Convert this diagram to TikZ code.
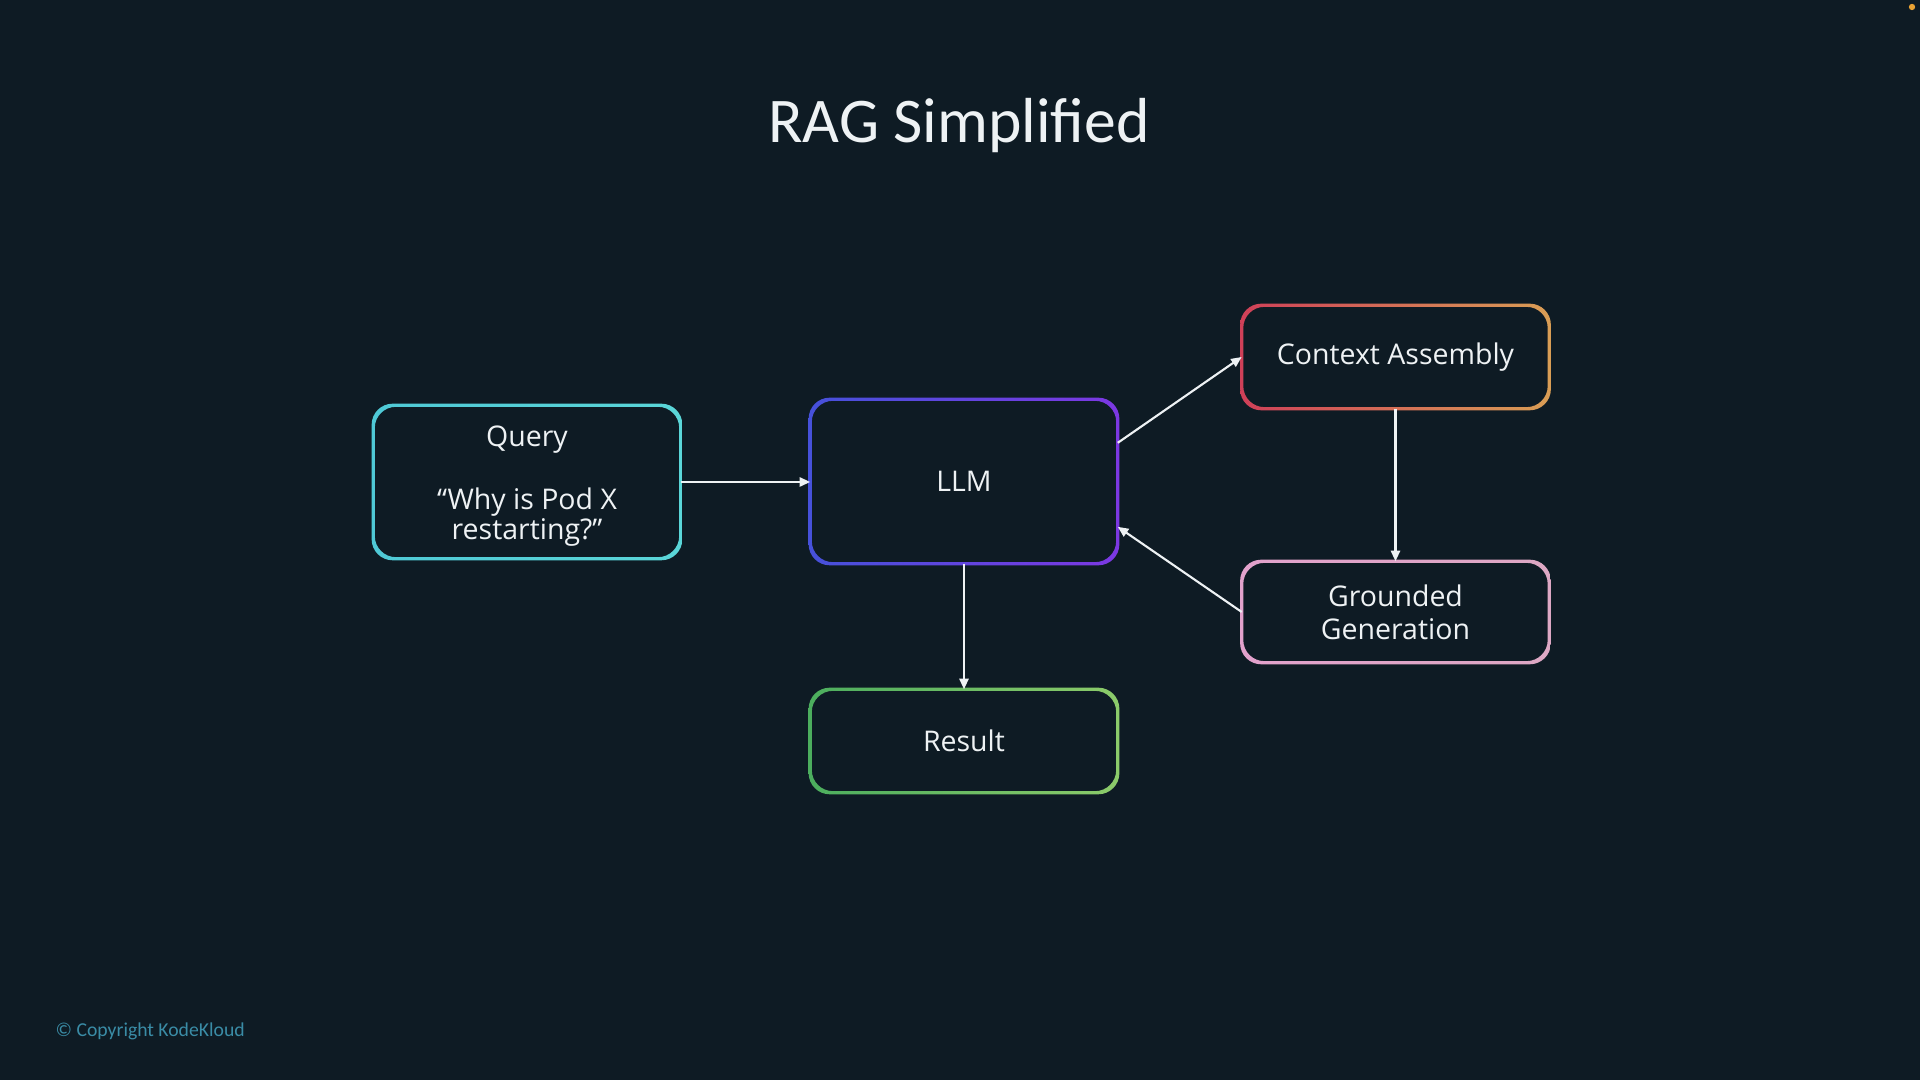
\documentclass[tikz,border=0pt]{standalone}
\usepackage{fontspec}
\setmainfont{Open Sans}
\newfontfamily\titlefont{Carlito}
\usetikzlibrary{arrows.meta}
\definecolor{bg}{HTML}{0E1B24}
\definecolor{txt}{HTML}{EEF2F4}
\definecolor{qa}{HTML}{4FC9D6}
\definecolor{qb}{HTML}{5AD6D8}
\definecolor{la}{HTML}{4651DA}
\definecolor{lb}{HTML}{7C38E2}
\definecolor{ca}{HTML}{CF4058}
\definecolor{cb}{HTML}{D99E55}
\definecolor{ga}{HTML}{E2A2CC}
\definecolor{gb}{HTML}{DDA8C4}
\definecolor{ra}{HTML}{4CAE5E}
\definecolor{rb}{HTML}{8CCB6A}
\definecolor{copy}{HTML}{3A8CA6}
\definecolor{dot}{HTML}{E8A234}
\newcommand\gring[3]{%
  \shade[left color=#2,right color=#3,even odd rule,rounded corners=6pt]
   ([xshift=-0.45pt,yshift=0.45pt]#1.north west) rectangle ([xshift=0.45pt,yshift=-0.45pt]#1.south east)
   ([xshift=0.45pt,yshift=-0.45pt]#1.north west) rectangle ([xshift=-0.45pt,yshift=0.45pt]#1.south east);}
\tikzset{
  box/.style={rectangle,inner sep=0pt,minimum width=3.06cm,text=txt,align=center,
    font=\fontsize{8.1}{9.4}\selectfont},
  arr/.style={draw=txt,line width=0.6pt,-{Triangle[length=3pt,width=2.6pt]}},
}
\begin{document}
\begin{tikzpicture}[x=0.01cm,y=-0.01cm]
\fill[bg] (0,0) rectangle (1920,1080);
\useasboundingbox (0,0) rectangle (1920,1080);

\node[anchor=base,text=txt,font=\titlefont\fontsize{18.1}{20}\selectfont] (title) at (959,143) {RAG Simplified};

\node[box,minimum height=1.52cm,font=\fontsize{8.1}{8.4}\selectfont] (q) at (527,482)
  {\rule{0pt}{8.2pt}Query\\[9.6pt]“Why is Pod X\\restarting?”};
\node[box,minimum height=1.63cm] (llm) at (964,481.5) {LLM};
\node[box,minimum height=1.02cm] (ctx) at (1395.5,357) {Context Assembly};
\node[box,minimum height=1.0cm] (gg) at (1395.5,612) {Grounded\\Generation};
\node[box,minimum height=1.02cm] (res) at (964,741) {Result};

\gring{q}{qa}{qb}
\gring{llm}{la}{lb}
\gring{ctx}{ca}{cb}
\gring{gg}{ga}{gb}
\gring{res}{ra}{rb}

\draw[arr] (q.east) -- (q.east -| llm.west);
\draw[arr] ([yshift=11pt]llm.east) -- (ctx.west);
\draw[arr] (ctx.south) -- (gg.north);
\draw[arr] (gg.west) -- ([yshift=-12.9pt]llm.east);
\draw[arr] (llm.south) -- (res.north);

\node[anchor=base west,text=copy,font=\titlefont\fontsize{5.6}{6}\selectfont,inner sep=0pt] (cr) at (55,1037) {© Copyright KodeKloud};
\fill[dot] (1912,7) circle (0.9pt);
\end{tikzpicture}
\end{document}
